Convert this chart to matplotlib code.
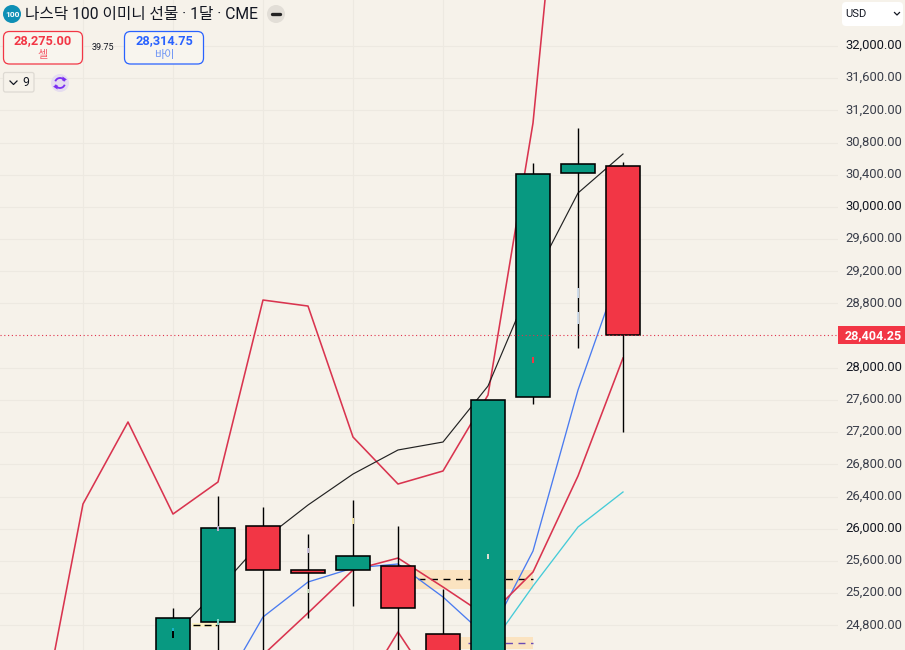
import matplotlib
matplotlib.use("Agg")
import matplotlib.pyplot as plt
from matplotlib.patches import FancyBboxPatch, Circle, Rectangle, Arc, Polygon
from matplotlib.transforms import ScaledTranslation

plt.rcParams['font.family'] = ['Noto Sans CJK KR', 'DejaVu Sans']

# ---- data ----
candle_index = [0, 1, 2, 3, 4, 5, 6, 7, 8, 9, 10]
opens  = [24000, 24841, 26034, 25456, 25487, 25537, 24692, 24200, 27637, 30422, 30509]
closes = [24891, 26006, 25487, 25487, 25667, 25015, 24300, 27600, 30409, 30533, 28404.25]
highs  = [25015, 26407, 26270, 25935, 26357, 26034, 25251, 27600, 30546, 30981, 30558]
lows   = [23700, 24300, 24200, 24891, 25040, 24300, 24000, 24000, 27550, 28246, 27202]

upper_x = [-3, -2, -1, 0, 1, 2, 3, 4, 5, 6, 7, 8, 9]
upper_y = [23399, 26308, 27327, 26183, 26581, 28843, 28768, 27140, 26556, 26718, 27662, 31043, 36773]
black_x = [-1, 0, 1, 2, 3, 4, 5, 6, 7, 8, 9, 10]
black_y = [23871, 24667, 25239, 25860, 26295, 26680, 26979, 27078, 27774, 29092, 30173, 30658]
blue_x = [1, 2, 3, 4, 5, 6, 7, 8, 9, 10]
blue_y = [23934, 24903, 25338, 25512, 25562, 25152, 24642, 25723, 27724, 29315]
red_x = [1, 2, 3, 4, 5, 6, 7, 8, 9, 10]
red_y = [23909, 24431, 24953, 25487, 25636, 25276, 24903, 25462, 26656, 28122]
low_x = [4, 5, 6]
low_y = [23797, 24717, 23871]
cyan_x = [7, 8, 9, 10]
cyan_y = [24500, 25288, 26022, 26457]

# small coloured specks sitting on the candles: index, price low, price high, colour
speck_i  = [0, 0, 1, 1, 3, 3, 4, 7, 8, 9, 9]
speck_lo = [24640, 24729, 25970, 24805, 25200, 25700, 26060, 25625, 28060, 28868, 28545]
speck_hi = [24729, 24770, 26040, 24880, 25250, 25760, 26130, 25680, 28130, 28990, 28694]
speck_c  = ['#000000', '#19B5CC', '#B9AFD0', '#7FD6C8', '#CFE3C8', '#C9C0DC', '#F3E6A8',
            '#E4DED4', '#F23645', '#CFDCEB', '#CFDCEB']

tick_prices = [p for p in range(24800, 32001, 400) if p != 28400]
last_price = 28404.25
title = "나스닥 100 이미니 선물 · 1달 · CME"

BG = '#F6F2EA'
GRID = '#EDE9E1'
GREEN = '#089981'
RED = '#F23645'

fig = plt.figure(figsize=(9.05, 6.5), dpi=100, facecolor=BG)
ax = fig.add_axes([0, 0, 838 / 905, 1], facecolor=BG)
ax.set_xlim(-173 / 45, (838 - 173) / 45)
ax.set_ylim(24493, 32572)
for s in ax.spines.values():
    s.set_visible(False)
ax.set_xticks([])
ax.yaxis.tick_right()
ax.set_yticks(tick_prices)
ax.tick_params(axis='y', length=0, pad=5.5)
ax.set_yticklabels([f"{p:,.2f}" for p in tick_prices], fontfamily='Roboto', fontsize=9.4)
lift = ScaledTranslation(0, 2 / 100, fig.dpi_scale_trans)
for p, lab in zip(tick_prices, ax.get_yticklabels()):
    lab.set_color('#131722' if p % 1000 == 0 else '#3A3E4A')
    lab.set_transform(lab.get_transform() + lift)
ax.set_axisbelow(True)
ax.grid(axis='y', color=GRID, lw=0.75)
for v in range(-2, 8, 2):
    ax.axvline(v, color=GRID, lw=0.75, zorder=0.5)

# zones
ax.axhspan(25251, 25487, xmin=(415) / 838, xmax=533 / 838, color='#FBE3C0', lw=0, zorder=1)
ax.axhspan(24505, 24655, xmin=(461) / 838, xmax=533 / 838, color='#FBE3C0', lw=0, zorder=1)
ax.axhspan(24779, 24828, xmin=192 / 838, xmax=217 / 838, color='#FDF3C4', lw=0, zorder=1)
ax.plot([5.45, 8], [25375, 25375], color='black', lw=1, dashes=(5, 4), zorder=1.5)
ax.plot([6.55, 8], [24580, 24580], color='#6A4BB5', lw=1, dashes=(5, 4), zorder=1.5)
ax.plot([0.45, 0.98], [24804, 24804], color='black', lw=1, dashes=(5, 3), zorder=1.5)

# lines
ax.plot(upper_x, upper_y, color='#D9344F', lw=1.15, zorder=2)
ax.plot(black_x, black_y, color='#222222', lw=0.85, zorder=2)
ax.plot(blue_x, blue_y, color='#4A7BF0', lw=0.95, zorder=2)
ax.plot(red_x, red_y, color='#D9344F', lw=1.15, zorder=2)
ax.plot(low_x, low_y, color='#D9344F', lw=1.15, zorder=2)
ax.plot(cyan_x, cyan_y, color='#45CBD8', lw=0.95, zorder=2)

# candles
for i, o, c, h, l in zip(candle_index, opens, closes, highs, lows):
    ax.vlines(i, l, h, color='black', lw=1, zorder=3)
    col = GREEN if c >= o else RED
    if i == 3:
        col = RED
    ax.bar(i, abs(c - o), bottom=min(o, c), width=34 / 45, color=col,
           edgecolor='black', linewidth=1.15, zorder=4)

ax.vlines(speck_i, speck_lo, speck_hi, colors=speck_c, lw=1.4, zorder=4.5)

# last price line
ax.axhline(last_price, color='#E0334C', lw=0.8, dashes=(1, 2.4), zorder=5)

# ---- UI overlay ----
ui = fig.add_axes([0, 0, 1, 1], facecolor='none')
ui.set_xlim(0, 905)
ui.set_ylim(650, 0)
ui.axis('off')


def box(x0, y0, x1, y1, fc, ec, r=6, lw=0.9):
    ui.add_patch(FancyBboxPatch((x0, y0), x1 - x0, y1 - y0,
                                boxstyle=f"round,pad=0,rounding_size={r}",
                                fc=fc, ec=ec, lw=lw))


ui.add_patch(Rectangle((838, 326), 67, 18, fc='#F23645', ec='none'))
ui.text(873, 335.5, "28,404.25", color='white', fontfamily='Roboto', fontweight='bold',
        fontsize=9, ha='center', va='center')

ui.add_patch(Circle((12, 14), 9, fc='#0E8FB5', ec='none'))
ui.text(12, 14.5, "100", color='white', fontsize=6, fontweight='bold', ha='center', va='center',
        fontfamily='Roboto')
ui.text(25, 14, title, color='#131722', fontsize=11.3, ha='left', va='center',
        family=['Roboto', 'Noto Sans CJK KR'])
ui.add_patch(Circle((276, 14), 9, fc='#E2DED7', ec='none'))
ui.plot([272, 280], [14, 14], color='#222222', lw=2.4, solid_capstyle='round')

box(3.5, 31.5, 82.5, 64, '#F8F5EE', '#F23645')
ui.text(43, 41, "28,275.00", color='#F23645', fontsize=9.2, fontweight='bold', ha='center', va='center',
        fontfamily='Roboto')
ui.text(43, 55, "셀", color='#F4606E', fontsize=8, ha='center', va='center')
ui.text(103, 48, "39.75", color='#131722', fontsize=6.5, ha='center', va='center', fontfamily='Roboto')
box(124.5, 31.5, 203.5, 64, '#F8F5EE', '#2962FF')
ui.text(164, 41, "28,314.75", color='#2962FF', fontsize=9.2, fontweight='bold', ha='center', va='center',
        fontfamily='Roboto')
ui.text(164, 55, "바이", color='#6C93F5', fontsize=8, ha='center', va='center')

box(3.5, 72.5, 34, 92, BG, '#DEDAD3', r=2)
ui.plot([10, 13.5, 17], [81, 84.5, 81], color='#131722', lw=0.9)
ui.text(26, 82.5, "9", color='#131722', fontsize=8.8, ha='center', va='center', fontfamily='Roboto')

# sync icon: two arc arrows
ui.add_patch(Circle((60, 83), 9, fc='#E6DDEF', ec='none'))
ui.add_patch(Arc((60, 83), 10, 10, theta1=200, theta2=340, ec='#7B2FF2', lw=1.3))
ui.add_patch(Arc((60, 83), 10, 10, theta1=20, theta2=160, ec='#7B2FF2', lw=1.3))
ui.add_patch(Polygon([[62.5, 76.5], [67, 79.5], [62.5, 81]], fc='#7B2FF2', ec='none'))
ui.add_patch(Polygon([[57.5, 89.5], [53, 86.5], [57.5, 85]], fc='#7B2FF2', ec='none'))

box(842, 2, 903, 26, '#FFFFFF', 'none', r=4, lw=0)
ui.text(845, 14, "USD", color='#131722', fontsize=8, ha='left', va='center', fontfamily='Roboto')
ui.plot([894.5, 897, 899.5], [12.5, 15, 12.5], color='#131722', lw=0.9)

fig.savefig("out.png", dpi=100, facecolor=BG)
